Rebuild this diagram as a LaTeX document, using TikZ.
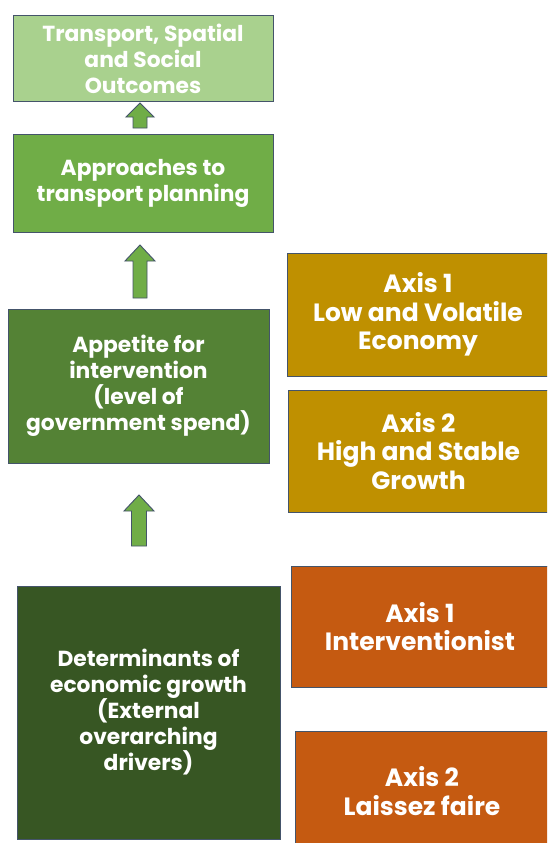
\documentclass[tikz,border=0pt]{standalone}
\usepackage{fontspec}
\setmainfont{Poppins}
\usetikzlibrary{positioning}
\definecolor{edge}{HTML}{44546A}
\definecolor{outc}{HTML}{A9D18E}
\definecolor{appr}{HTML}{70AD47}
\definecolor{appe}{HTML}{548235}
\definecolor{dete}{HTML}{375623}
\definecolor{gold}{HTML}{BF9000}
\definecolor{rust}{HTML}{C55A11}
\tikzset{
  box/.style={draw=edge, line width=1pt, text=white, align=center, inner sep=0pt,
    font=\bfseries\fontsize{21.8}{26}\selectfont},
  axisbox/.style={box, font=\bfseries\fontsize{25}{28.5}\selectfont},
  blockarrow/.style={draw=edge, line width=0.9pt, fill=appr, line join=miter}
}
% box by corners: name, left, top, right, bottom, style, text
\newcommand{\cornerbox}[7]{%
  \node[#6, minimum width={(#4-#2)*1pt}, minimum height={(#5-#3)*1pt}]
    (#1) at ({(#2+#4)/2}, {(#3+#5)/2}) {#7};}
% up arrow: centre x, bottom, head base, tip, half shaft, half head
\newcommand{\uparrowblock}[6]{%
  \draw[blockarrow] ({#1-#5},#2) -- ({#1-#5},#3) -- ({#1-#6},#3) -- (#1,#4)
    -- ({#1+#6},#3) -- ({#1+#5},#3) -- ({#1+#5},#2) -- cycle;}
\begin{document}
\begin{tikzpicture}[x=1pt, y=-1pt]
\useasboundingbox (0,0) rectangle (547,843);
\fill[white] (0,0) rectangle (547,843);
\begin{scope}
\clip (0,0) rectangle (547,843);
% left column
\cornerbox{outcomes}{13}{16}{273}{101}{box, fill=outc}{Transport, Spatial\\and Social\\Outcomes}
\cornerbox{approaches}{13}{134}{273}{232}{box, fill=appr}{Approaches to\\transport planning}
\cornerbox{appetite}{8}{309}{269}{463}{box, fill=appe}{Appetite for\\intervention\\(level of\\government spend)}
\cornerbox{drivers}{17}{586}{280}{839}{box, fill=dete}{Determinants of\\economic growth\\(External\\overarching\\drivers)}
% right column, running off the right edge
\cornerbox{lowvol}{287}{253}{549}{376}{axisbox, fill=gold}{Axis 1\\Low and Volatile\\Economy}
\cornerbox{highst}{288}{390}{549}{512}{axisbox, fill=gold}{Axis 2\\High and Stable\\Growth}
\cornerbox{interv}{291}{566}{549}{687}{axisbox, fill=rust}{Axis 1\\Interventionist}
\cornerbox{laissez}{295}{731}{549}{851}{axisbox, fill=rust}{Axis 2\\Laissez faire}
\end{scope}
% block arrows between the left boxes
\uparrowblock{140}{128}{117}{103}{7}{14}
\uparrowblock{140}{298}{261}{245}{7}{15}
\uparrowblock{139}{546}{511}{495}{7.5}{15}
\end{tikzpicture}
\end{document}
